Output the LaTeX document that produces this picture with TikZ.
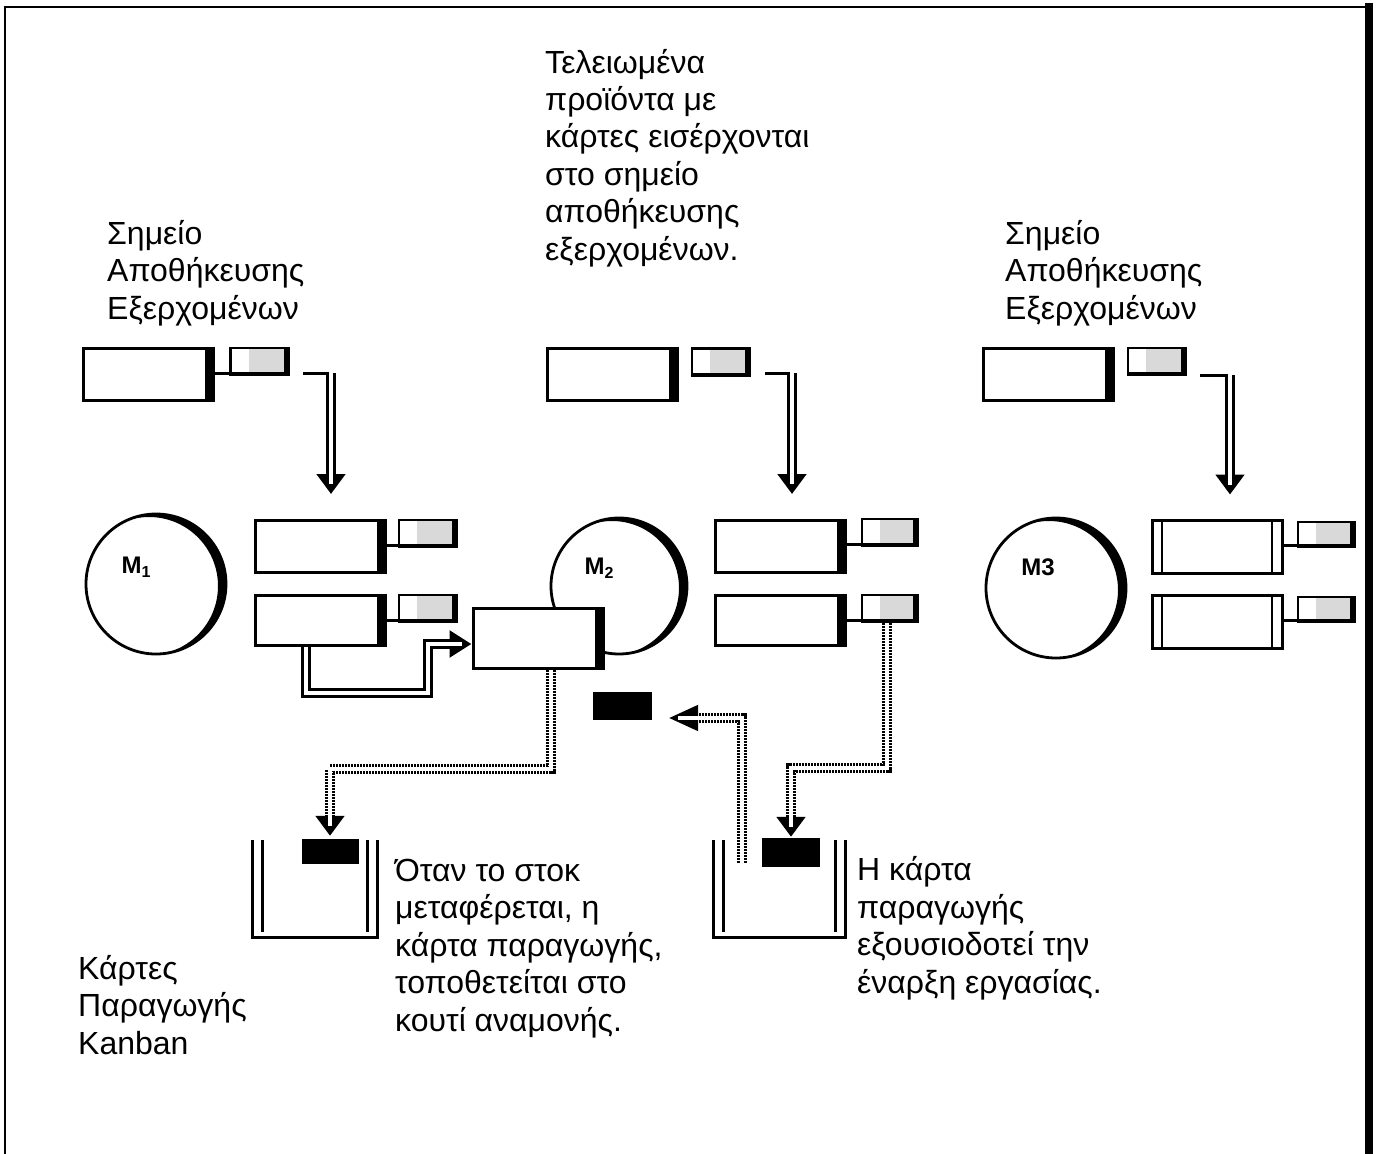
\documentclass[tikz,border=0pt]{standalone}
\usepackage{fontspec}
\setmainfont{Liberation Sans}
\usetikzlibrary{arrows.meta}
\newcommand\mycrescent[2]{%
  \begin{scope}
    \clip (#1.center) circle (#2pt);
    \fill[even odd rule] (#1.center) circle (#2pt) ([shift={(-7,2)}]#1.center) circle (#2pt-1pt);
  \end{scope}}
\begin{document}
\begin{tikzpicture}[x=1pt,y=-1pt,
  line join=miter,
  txt/.style={anchor=base west, align=left, inner sep=0pt, font=\fontsize{32}{37.4}\selectfont},
  mlab/.style={inner sep=0pt, font=\fontsize{24}{24}\selectfont\bfseries},
  box/.style={draw, line width=3pt, fill=white, minimum width=130pt, minimum height=52pt, inner sep=0pt,
    path picture={\fill[black] ([xshift=-8pt]path picture bounding box.north east) rectangle (path picture bounding box.south east);}},
  boxd/.style={draw, line width=3pt, fill=white, minimum width=130pt, minimum height=52pt, inner sep=0pt,
    path picture={\draw[black, line width=1.5pt] ([xshift=10pt]path picture bounding box.north west) -- ([xshift=10pt]path picture bounding box.south west);
      \draw[black, line width=1.5pt] ([xshift=-10pt]path picture bounding box.north east) -- ([xshift=-10pt]path picture bounding box.south east);}},
  card/.style={draw, line width=2.5pt, fill=gray!30, minimum width=58pt, minimum height=27pt, inner sep=0pt,
    path picture={\fill[white] (path picture bounding box.north west) rectangle ([xshift=18pt]path picture bounding box.south west);
      \fill[black] ([xshift=-5pt]path picture bounding box.north east) rectangle (path picture bounding box.south east);
      \fill[black] (path picture bounding box.south west) rectangle ([yshift=3pt]path picture bounding box.south east);}},
  kcard/.style={fill=black, minimum width=57pt, minimum height=25pt, inner sep=0pt},
  machine/.style={circle, draw, line width=2.8pt, fill=white, minimum size=140pt, inner sep=0pt},
  link/.style={line width=3pt},
  dblsolid/.style={line width=10pt, -{Triangle[length=20pt,width=28pt]},
    postaction={draw, white, line width=4pt, -, shorten >=10pt}},
  dbldot/.style={line width=10pt, dash pattern=on 2pt off 1pt, -{Triangle[length=20pt,width=28pt]},
    postaction={draw, white, line width=4pt, solid, -, shorten >=10pt}},
  binline/.style={line width=3pt}
]
\useasboundingbox (0,0) rectangle (1385,1154);
% frame
\draw[line width=2.5pt] (5,1154) -- (5,7) -- (1372,7);
\draw[line width=8pt] (1369,3) -- (1369,1154);

% texts (anchored at the baseline of the last line)
\node[txt] (tl) at (107,319) {Σημείο\\Αποθήκευσης\\Εξερχομένων};
\node[txt] (tm) at (545,260) {Τελειωμένα\\προϊόντα με\\κάρτες εισέρχονται\\στο σημείο\\αποθήκευσης\\εξερχομένων.};
\node[txt] (tr) at (1005,319) {Σημείο\\Αποθήκευσης\\Εξερχομένων};
\node[txt] (bl) at (78,1054) {Κάρτες\\Παραγωγής\\Kanban};
\node[txt] (bm) at (395,1031) {Όταν το στοκ\\μεταφέρεται, η\\κάρτα παραγωγής,\\τοποθετείται στο\\κουτί αναμονής.};
\node[txt] (br) at (857,993) {Η κάρτα\\παραγωγής\\εξουσιοδοτεί την\\έναρξη εργασίας.};

% top row
\node[box] (bT1) at (148,374) {};
\node[card] (cT1) at (259.5,361.5) {};
\draw[link] ([yshift=3pt]cT1.south west) -- ([yshift=3pt]cT1.south west -| bT1.east);
\node[box] (bT2) at (612,374) {};
\node[card] (cT2) at (721,362) {};
\node[box] (bT3) at (1048,374) {};
\node[card] (cT3) at (1157,361.5) {};

% machines
\node[machine] (m1) at (156,584) {};
\mycrescent{m1}{70}
\node[mlab] (m1l) at (136,567) {M\raisebox{-0.35ex}{\fontsize{16}{16}\selectfont 1}};
\node[machine, minimum size=136pt] (m2) at (619,586) {};
\mycrescent{m2}{68}
\node[mlab] (m2l) at (599,568) {M\raisebox{-0.35ex}{\fontsize{16}{16}\selectfont 2}};
\node[machine] (m3) at (1056,588) {};
\mycrescent{m3}{70}
\node[mlab] (m3l) at (1038,567) {M3};

% middle row boxes and cards
\node[box] (bA1) at (320,546.5) {};
\node[card] (cA1) at (428,533.5) {};
\draw[link] ([yshift=3pt]cA1.south west) -- ([yshift=3pt]cA1.south west -| bA1.east);
\node[box, minimum height=50pt] (bA2) at (320,620) {};
\node[card] (cA2) at (428,608.5) {};
\draw[link] ([yshift=3pt]cA2.south west) -- ([yshift=3pt]cA2.south west -| bA2.east);

\node[box, minimum height=60pt] (w2) at (538,638) {};

\node[box] (bB1) at (780,546.5) {};
\node[card, minimum width=56pt] (cB1) at (890,532.5) {};
\draw[link] ([yshift=3pt]cB1.south west) -- ([yshift=3pt]cB1.south west -| bB1.east);
\node[box, minimum height=50pt] (bB2) at (780,620) {};
\node[card, minimum width=56pt] (cB2) at (890,608.5) {};
\draw[link] ([yshift=3pt]cB2.south west) -- ([yshift=3pt]cB2.south west -| bB2.east);

\node[boxd, minimum height=53pt] (bC1) at (1217,546.5) {};
\node[card, minimum width=57pt, minimum height=25pt] (cC1) at (1326.5,534.5) {};
\draw[link] ([yshift=3pt]cC1.south west) -- ([yshift=3pt]cC1.south west -| bC1.east);
\node[boxd, minimum height=53pt] (bC2) at (1217,621.5) {};
\node[card, minimum width=57pt, minimum height=25pt] (cC2) at (1326.5,609.5) {};
\draw[link] ([yshift=3pt]cC2.south west) -- ([yshift=3pt]cC2.south west -| bC2.east);

% downward arrows from top cards
\coordinate (s1) at (303,373); \coordinate (t1) at (331,373);
\draw[link] (s1) -- ([xshift=-2pt]t1);
\draw[dblsolid] (t1) -- ([yshift=25pt]bA1.north -| t1);
\coordinate (s2) at (765,373); \coordinate (t2) at (792,373);
\draw[link] (s2) -- ([xshift=-2pt]t2);
\draw[dblsolid] (t2) -- ([yshift=25pt]bB1.north -| t2);
\coordinate (s3) at (1200,375); \coordinate (t3) at (1230,375);
\draw[link] (s3) -- ([xshift=-2pt]t3);
\draw[dblsolid] (t3) -- ([yshift=24pt]bC1.north -| t3);

% stock moves from M1 output to M2 input
\draw[dblsolid, -{Triangle[length=22pt,width=26pt]}] ([xshift=-14pt]bA2.south) -- ++(0,46) -| (428,644) -- ([yshift=-6pt]w2.west);

% bins
\draw[binline] (252,840) -- (252,937) -- (377,937) -- (377,840);
\draw[binline] (262,840) -- (262,932);
\draw[binline] (367,840) -- (367,932);
\draw[binline] (713,840) -- (713,937) -- (845,937) -- (845,840);
\draw[binline] (723,840) -- (723,932);
\draw[binline] (835,840) -- (835,932);

% black kanban cards
\node[kcard] (kb1) at (330,851.5) {};
\node[kcard, minimum width=59pt, minimum height=28pt] (kf) at (622.5,706) {};
\node[kcard, minimum width=58pt, minimum height=29pt] (kb2) at (791,852.5) {};

% dotted card flows
\draw[dbldot] ([xshift=13pt]w2.south) -- ++(0,99) -| ([yshift=3pt]kb1.north);
\draw[dbldot] ([xshift=-3pt]cB2.south) -- ++(0,145) -| ([yshift=1pt]kb2.north);
\coordinate (s7) at (742,863);
\draw[dbldot, -{Triangle[length=30pt,width=24pt]}] (s7) |- ([xshift=16pt,yshift=-12pt]kf.east);
\end{tikzpicture}
\end{document}
